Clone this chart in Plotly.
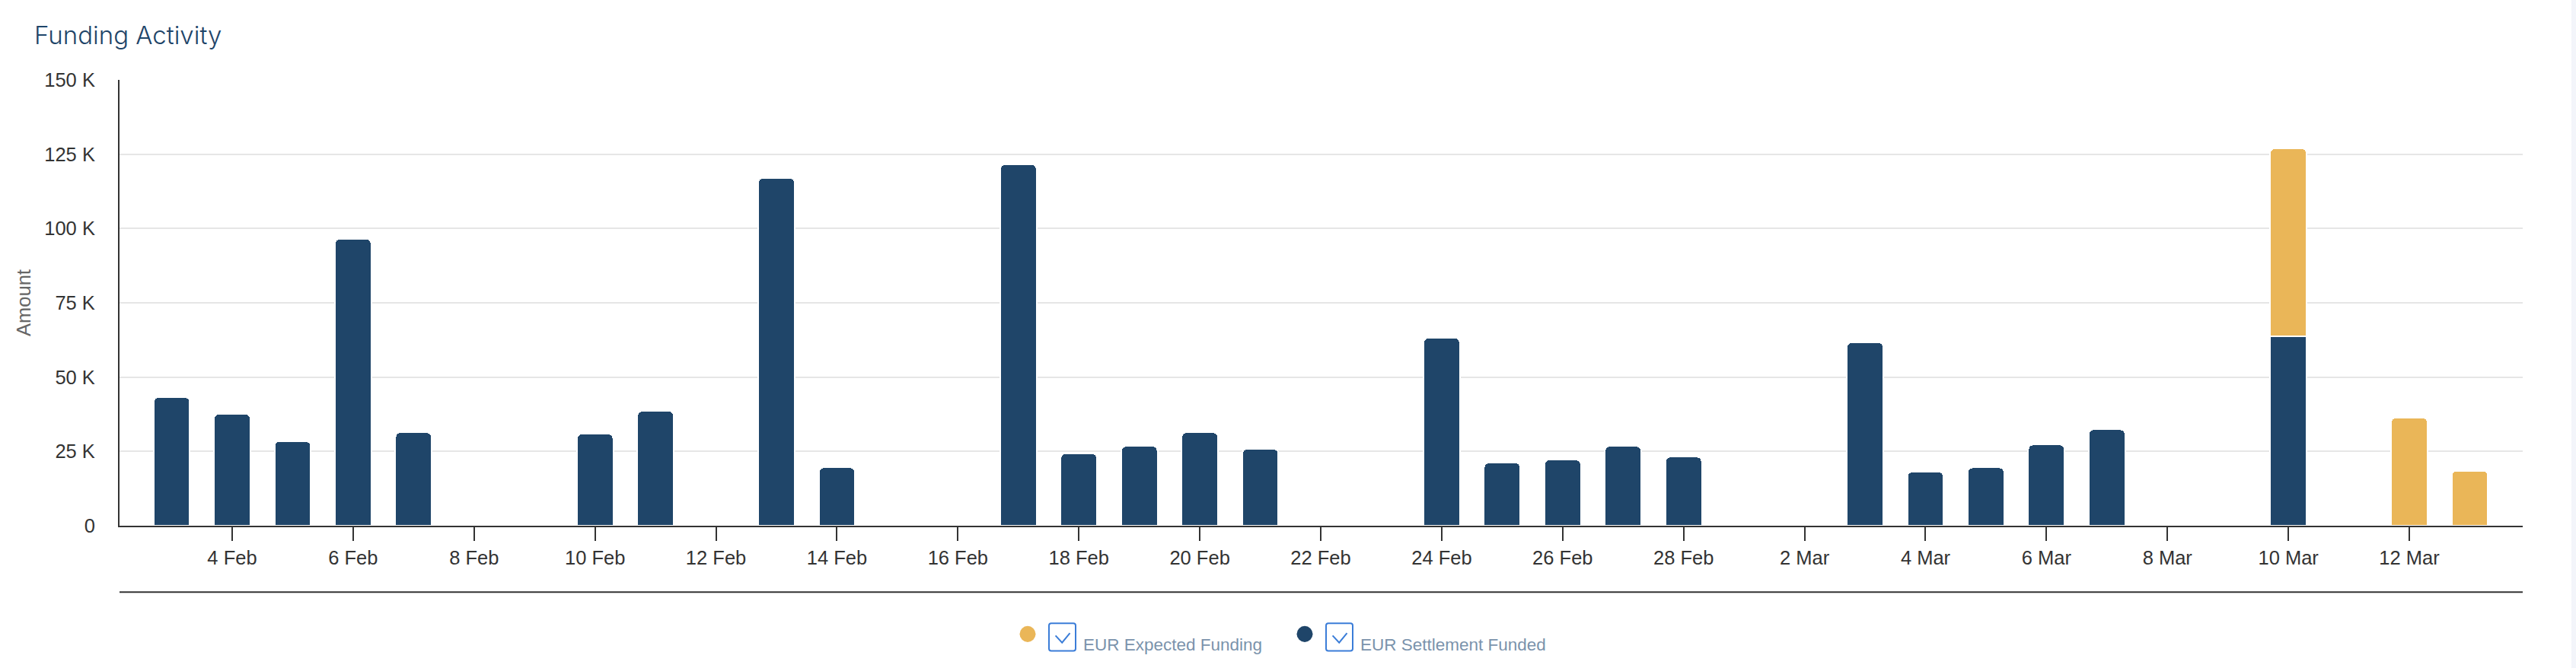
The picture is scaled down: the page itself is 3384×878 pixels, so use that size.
import plotly.graph_objects as go

# values, amounts in EUR
funded_dates = ["2025-02-03", "2025-02-04", "2025-02-05", "2025-02-06", "2025-02-07",
                "2025-02-10", "2025-02-11", "2025-02-13", "2025-02-14",
                "2025-02-17", "2025-02-18", "2025-02-19", "2025-02-20", "2025-02-21",
                "2025-02-24", "2025-02-25", "2025-02-26", "2025-02-27", "2025-02-28",
                "2025-03-03", "2025-03-04", "2025-03-05", "2025-03-06", "2025-03-07",
                "2025-03-10"]
funded_values = [43200, 37600, 28400, 96500, 31400,
                 30900, 38600, 117000, 19600,
                 121600, 24300, 26800, 31400, 25800,
                 63200, 21200, 22200, 26800, 23200,
                 61700, 18100, 19600, 27300, 32400,
                 63800]
expected_dates = ["2025-03-10", "2025-03-12", "2025-03-13"]
expected_values = [63200, 36400, 18500]

y_ticks = [0, 25000, 50000, 75000, 100000, 125000, 150000]
y_labels = ["0", "25 K", "50 K", "75 K", "100 K", "125 K", "150 K"]

NAVY = "#1f4569"
YELLOW = "#eab658"
W, H = 3384, 878
L, R, T, B = 157, 3314, 105, 690.7


def px(x):
    return (x - L) / (R - L)


def py(y):
    return (B - y) / (B - T)


fig = go.Figure()
bar_width = 52000000  # ms, a bit over half a day
fig.add_trace(go.Bar(x=funded_dates, y=funded_values, name="EUR Settlement Funded",
                     width=bar_width, marker=dict(color=NAVY, line=dict(color="white", width=2))))
fig.add_trace(go.Bar(x=expected_dates, y=expected_values, name="EUR Expected Funding",
                     width=bar_width, marker=dict(color=YELLOW, line=dict(color="white", width=2))))

shapes = [
    # second rule under the date labels
    dict(type="line", xref="paper", yref="paper", x0=0, x1=1, y0=py(778), y1=py(778),
         line=dict(color="#333333", width=2)),
    # strip at the right edge of the page
    dict(type="rect", xref="paper", yref="paper", x0=px(3378), x1=px(3384), y0=py(0), y1=py(878),
         fillcolor="#f3f5fa", line=dict(width=0)),
]
annotations = []


def legend_entry(cx, color, label):
    shapes.append(dict(type="circle", xref="paper", yref="paper",
                       x0=px(cx - 10.5), x1=px(cx + 10.5), y0=py(843.5), y1=py(822.5),
                       fillcolor=color, line=dict(width=0)))
    x0, x1, y0, y1, r = cx + 28, cx + 63, 819, 855, 3
    box = (f"M {px(x0 + r)} {py(y0)} L {px(x1 - r)} {py(y0)} Q {px(x1)} {py(y0)} {px(x1)} {py(y0 + r)} "
           f"L {px(x1)} {py(y1 - r)} Q {px(x1)} {py(y1)} {px(x1 - r)} {py(y1)} "
           f"L {px(x0 + r)} {py(y1)} Q {px(x0)} {py(y1)} {px(x0)} {py(y1 - r)} "
           f"L {px(x0)} {py(y0 + r)} Q {px(x0)} {py(y0)} {px(x0 + r)} {py(y0)} Z")
    shapes.append(dict(type="path", xref="paper", yref="paper", path=box,
                       fillcolor="white", line=dict(color="#3b7dd8", width=2)))
    check = (f"M {px(x0 + 8.6)} {py(y0 + 16)} L {px(x0 + 17.2)} {py(y0 + 25.3)} "
             f"L {px(x0 + 27.5)} {py(y0 + 12.7)}")
    shapes.append(dict(type="path", xref="paper", yref="paper", path=check,
                       line=dict(color="#3b7dd8", width=2)))
    annotations.append(dict(xref="paper", yref="paper", x=px(cx + 71), y=py(847),
                            xanchor="left", yanchor="middle", showarrow=False, text=label,
                            font=dict(family="Liberation Sans", size=22.5, color="#7b93ac")))


legend_entry(1350, YELLOW, "EUR Expected Funding")
legend_entry(1714, NAVY, "EUR Settlement Funded")

fig.update_layout(
    width=W, height=H,
    margin=dict(l=L, r=W - R, t=T, b=H - B, pad=0),
    paper_bgcolor="white", plot_bgcolor="white",
    barmode="stack", barcornerradius=6, showlegend=False,
    font=dict(family="Liberation Sans", size=25.5, color="#333333"),
    title=dict(text="Funding Activity", xref="container", yref="container",
               x=45 / W, xanchor="left", y=1 - 46 / H, yanchor="middle",
               font=dict(family="Inter", size=33, color=NAVY, weight=300)),
    shapes=shapes, annotations=annotations,
)
fig.update_xaxes(type="date", range=["2025-02-02 03:18", "2025-03-13 21:00"],
                 tick0="2025-02-04", dtick=172800000, tickformat="%-d %b",
                 ticks="outside", ticklen=18, tickwidth=2, tickcolor="#333333",
                 showgrid=False, showline=True, linecolor="#333333", linewidth=2)
fig.update_yaxes(range=[0, 150000], tickvals=y_ticks, ticktext=y_labels,
                 ticks="", ticklabelstandoff=25,
                 showgrid=True, gridcolor="#e6e6e6", gridwidth=2, zeroline=False,
                 showline=True, linecolor="#333333", linewidth=2,
                 title=dict(text="Amount", standoff=10, font=dict(size=25.5, color="#666666")))

# drop the browser's default page margin so the figure sits at 0,0
fig.write_html("out.html", config={"displayModeBar": False},
               post_script="document.body.style.margin='0';")
